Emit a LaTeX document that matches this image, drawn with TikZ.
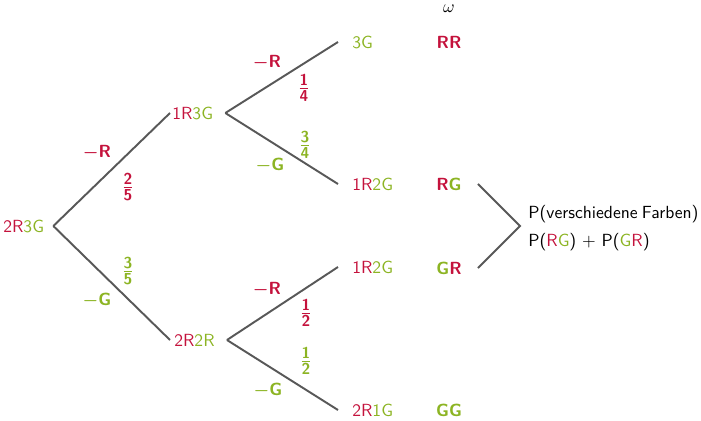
\documentclass[tikz,border=0pt]{standalone}
\usepackage{amsmath}
\usepackage{tikz}
\usetikzlibrary{positioning,calc}
\definecolor{redBall}{RGB}{196,18,60}
\definecolor{greenBall}{RGB}{140,180,35}
\definecolor{branchLine}{RGB}{88,88,88}
\newcommand{\cR}[1]{\textcolor{redBall}{#1}}
\newcommand{\cG}[1]{\textcolor{greenBall}{#1}}
\newcommand{\fr}[2]{$\genfrac{}{}{0.4pt}{1}{\mbox{\small\bfseries#1\rule[-1.25pt]{0pt}{1.25pt}}}{\mbox{\small\bfseries\rule{0pt}{6.9pt}#2}}$}
\tikzset{
  urn/.style={anchor=west, inner sep=0pt, font=\sffamily},
  outcome/.style={inner sep=0pt, font=\sffamily\bfseries},
  pick/.style={inner sep=0pt, font=\sffamily\bfseries},
  prob/.style={inner sep=0pt, font=\sffamily},
  branch/.style={draw=branchLine, line width=1.1pt},
}
\begin{document}
\begin{tikzpicture}[x=0.02cm, y=-0.02cm]
  \useasboundingbox (0,0) rectangle (701,420);
  \node[urn] (root) at (3,226) {\cR{2R}\cG{3G}};
  \node[urn] (a) at (172,113) {\cR{1R}\cG{3G}};
  \node[urn] (b) at (174,340) {\cR{2R}\cG{2R}};
  \node[urn] (aa) at (352,42) {\cG{3G}};
  \node[urn] (ab) at (352,184) {\cR{1R}\cG{2G}};
  \node[urn] (ba) at (352,267) {\cR{1R}\cG{2G}};
  \node[urn] (bb) at (352,410) {\cR{2R}\cG{1G}};

  \node[inner sep=0pt] (omega) at (449,9) {$\omega$};
  \node[outcome] (rr) at (449,42) {\cR{RR}};
  \node[outcome] (rg) at (449,184) {\cR{R}\cG{G}};
  \node[outcome] (gr) at (449,268) {\cG{G}\cR{R}};
  \node[outcome] (gg) at (449,410) {\cG{GG}};

  \draw[branch] ($(root.east)+(9,0)$) -- ($(a.west)+(-2,0)$);
  \draw[branch] ($(root.east)+(9,0)$) -- ($(b.west)+(-4,0)$);
  \draw[branch] ($(a.east)+(12,0)$) -- ($(aa.west)+(-14,0)$);
  \draw[branch] ($(a.east)+(12,0)$) -- ($(ab.west)+(-14,0)$);
  \draw[branch] ($(b.east)+(12,0)$) -- ($(ba.west)+(-14,0)$);
  \draw[branch] ($(b.east)+(12,0)$) -- ($(bb.west)+(-14,0)$);

  \node[pick, text=redBall] (r1) at (97,153) {{\boldmath$-$}R};
  \node[prob, text=redBall] (p1) at (128,187) {\fr{2}{5}};
  \node[prob, text=greenBall] (p2) at (128,271) {\fr{3}{5}};
  \node[pick, text=greenBall] (g1) at (97,300) {{\boldmath$-$}G};

  \node[pick, text=redBall] (r2) at (267,63) {{\boldmath$-$}R};
  \node[prob, text=redBall] (p3) at (304,88) {\fr{1}{4}};
  \node[prob, text=greenBall] (p4) at (305,145) {\fr{3}{4}};
  \node[pick, text=greenBall] (g2) at (270,165) {{\boldmath$-$}G};

  \node[pick, text=redBall] (r3) at (267,290) {{\boldmath$-$}R};
  \node[prob, text=redBall] (p5) at (306,313) {\fr{1}{2}};
  \node[prob, text=greenBall] (p6) at (306,361) {\fr{1}{2}};
  \node[pick, text=greenBall] (g3) at (268,390) {{\boldmath$-$}G};

  \coordinate (tip) at (520,226);
  \draw[branch] ($(rg.east)+(16,0)$) -- (tip) -- ($(gr.east)+(16,0)$);
  \node[urn, align=left] (diff) at (528,228) {P(verschiedene\hspace{-1pt} Farben)\\[4pt]P(\cR{R}\cG{G}) $+$ P(\cG{G}\cR{R})};
\end{tikzpicture}
\end{document}
